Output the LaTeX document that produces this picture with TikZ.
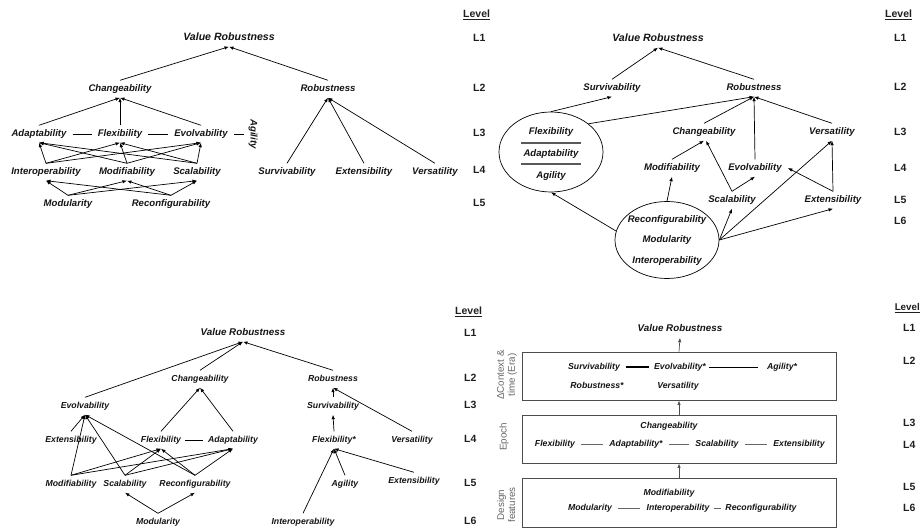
\documentclass[tikz,border=0pt]{standalone}
\usepackage{fontspec}
\setmainfont{Liberation Sans}
\usetikzlibrary{arrows.meta,shapes.geometric}
\begin{document}
\begin{tikzpicture}[x=1pt,y=-1pt,
  lab/.style={font=\fontsize{9.6}{11}\selectfont\bfseries\itshape, text=black!92, inner xsep=1pt, inner ysep=4pt, text height=7pt, text depth=2pt},
  labs/.style={lab, font=\fontsize{8.7}{10}\selectfont\bfseries\itshape},
  vr/.style={lab, font=\fontsize{10.6}{12}\selectfont\bfseries\itshape},
  vrs/.style={lab, font=\fontsize{9.8}{11}\selectfont\bfseries\itshape},
  lvl/.style={font=\fontsize{10.5}{12}\selectfont\bfseries, text=black!88, inner sep=0pt, anchor=west},
  arr/.style={-{Latex[length=4.5pt,width=3.5pt]}, line width=0.7pt},
  garr/.style={arr, draw=black!70},
  ln/.style={line width=0.7pt},
  gln/.style={line width=0.6pt, draw=black!60},
  side/.style={font=\fontsize{9.8}{11}\selectfont, text=black!60, rotate=90, align=center, inner sep=0pt},
  ell/.style={draw, ellipse, line width=0.7pt, minimum width=104pt, minimum height=80pt, inner sep=0pt},
  boxx/.style={draw=black!70, line width=0.9pt, minimum width=314pt, inner sep=0pt}
]
\useasboundingbox (0,0) rectangle (921,529);

% ---------------- Quadrant 1 ----------------
\node[vr] (a0) at (229,38) {Value Robustness};
\node[lab] (a1) at (120,89) {Changeability};
\node[lab] (a2) at (328,89) {Robustness};
\node[lab] (a3) at (39,134) {Adaptability};
\node[lab] (a4) at (120,134) {Flexibility};
\node[lab] (a5) at (201,134) {Evolvability};
\node[lab, rotate=-90] (a6) at (253,134) {Agility};
\node[lab] (a7) at (46,172) {Interoperability};
\node[lab] (a8) at (127,172) {Modifiability};
\node[lab] (a9) at (197,172) {Scalability};
\node[lab] (a10) at (287,172) {Survivability};
\node[lab] (a11) at (364,172) {Extensibility};
\node[lab] (a12) at (435,172) {Versatility};
\node[lab] (a13) at (68,204) {Modularity};
\node[lab] (a14) at (171,204) {Reconfigurability};

\draw[arr] (a1.north) -- (a0.south);
\draw[arr] (a2.north) -- (a0.south);
\foreach \s in {a3,a4,a5} \draw[arr] (\s.north) -- (a1.south);
\foreach \s in {a10,a11,a12} \draw[arr] (\s.north) -- (a2.south);
\foreach \s in {a7,a8,a9} {\foreach \t in {a3,a4,a5} {\draw[arr] (\s.north) -- (\t.south);}}
\foreach \s in {a13,a14} {\foreach \t in {a7,a8,a9} {\draw[arr] (\s.north) -- (\t.south);}}
\draw[ln] ([xshift=5pt]a3.east) -- ([xshift=-5pt]a4.west);
\draw[ln] ([xshift=5pt]a4.east) -- ([xshift=-5pt]a5.west);
\draw[ln] ([xshift=5pt]a5.east) -- (a6.south);

\node[lvl] (lva) at (463,15) {\underline{Level}};
\node[lvl] (lva1) at (473,38) {L1};
\node[lvl] (lva2) at (473,88) {L2};
\node[lvl] (lva3) at (473,133) {L3};
\node[lvl] (lva4) at (473,170) {L4};
\node[lvl] (lva5) at (473,203) {L5};

% ---------------- Quadrant 2 ----------------
\node[vr] (b0) at (658,39) {Value Robustness};
\node[lab] (b1) at (612,88) {Survivability};
\node[lab] (b2) at (754,88) {Robustness};
\node[ell] (bL) at (551,152) {};
\node[lab] (bL1) at (551,132) {Flexibility};
\node[lab] (bL2) at (551,154) {Adaptability};
\node[lab] (bL3) at (551,176) {Agility};
\draw[line width=1.3pt, black!65] (521,143) -- (581,143);
\draw[line width=1.3pt, black!65] (521,164) -- (581,164);
\node[lab] (b3) at (704,132) {Changeability};
\node[lab] (b4) at (832,132) {Versatility};
\node[lab] (b5) at (672,168) {Modifiability};
\node[lab] (b6) at (755,168) {Evolvability};
\node[lab] (b7) at (732,200) {Scalability};
\node[lab] (b8) at (833,200) {Extensibility};
\node[ell, minimum height=77pt] (bB) at (667,240) {};
\node[lab] (bB1) at (667,220) {Reconfigurability};
\node[lab] (bB2) at (667,240) {Modularity};
\node[lab] (bB3) at (667,261) {Interoperability};

\draw[arr] (b1.north) -- (b0.south);
\draw[arr] (b2.north) -- (b0.south);
\draw[arr] (bL.north) -- (b1.south);
\draw[arr] (bL.37) -- (b2.south);
\foreach \s in {b3,b6,b4} \draw[arr] (\s.north) -- (b2.south);
\draw[arr] (b5.north) -- (b3.south);
\draw[arr] (b7.north) -- ([xshift=2pt]b3.south);
\draw[arr] (b7.north) -- (b6.south);
\draw[arr] (b8.north) -- (b4.south);
\draw[arr] (b8.north) -- ([xshift=5pt]b6.east);
\draw[arr] (bB.north) -- (b5.south);
\draw[arr] (bB.east) -- (b7.south);
\draw[arr] (bB.east) -- (b4.south);
\draw[arr] (bB.east) -- (b8.south);
\draw[arr] (bB.170) -- (bL.south);

\node[lvl] (lvb) at (885,15) {\underline{Level}};
\node[lvl] (lvb1) at (894,38) {L1};
\node[lvl] (lvb2) at (894,87) {L2};
\node[lvl] (lvb3) at (894,132) {L3};
\node[lvl] (lvb4) at (894,168) {L4};
\node[lvl] (lvb5) at (894,200) {L5};
\node[lvl] (lvb6) at (894,221) {L6};

% ---------------- Quadrant 3 ----------------
\node[vrs] (c0) at (243,333) {Value Robustness};
\node[labs] (c1) at (200,379) {Changeability};
\node[labs] (c2) at (333,379) {Robustness};
\node[labs] (c3) at (85,406) {Evolvability};
\node[labs] (c4) at (333,406) {Survivability};
\node[labs] (c5) at (71,440) {Extensibility};
\node[labs] (c6) at (161,440) {Flexibility};
\node[labs] (c7) at (233,440) {Adaptability};
\node[labs] (c8) at (334,440) {Flexibility*};
\node[labs] (c9) at (412,440) {Versatility};
\node[labs] (c10) at (71,484) {Modifiability};
\node[labs] (c11) at (125,484) {Scalability};
\node[labs] (c12) at (195,484) {Reconfigurability};
\node[labs] (c13) at (345,484) {Agility};
\node[labs] (c14) at (414,481) {Extensibility};
\node[labs] (c15) at (158,522) {Modularity};
\node[labs] (c16) at (303,522) {Interoperability};

\foreach \s in {c3,c1,c2} \draw[arr] (\s.north) -- (c0.south);
\foreach \s in {c6,c7} \draw[arr] (\s.north) -- (c1.south);
\draw[ln] ([xshift=3pt]c6.east) -- ([xshift=-4pt]c7.west);
\foreach \s in {c5,c10,c11,c12} \draw[arr] (\s.north) -- (c3.south);
\foreach \s in {c10,c11,c12} {\foreach \t in {c6,c7} {\draw[arr] (\s.north) -- (\t.south);}}
\foreach \t in {c11,c12} \draw[arr] (c15.north) -- (\t.south);
\draw[arr] (c4.north) -- (c2.south);
\draw[arr] (c9.north) -- (c2.south);
\draw[arr] (c8.north) -- (c4.south);
\foreach \s in {c16,c13,c14} \draw[arr] (\s.north) -- (c8.south);

\node[lvl] (lvc) at (455,312) {\underline{Level}};
\node[lvl] (lvc1) at (464,333) {L1};
\node[lvl] (lvc2) at (464,378) {L2};
\node[lvl] (lvc3) at (464,405) {L3};
\node[lvl] (lvc4) at (464,439) {L4};
\node[lvl] (lvc5) at (464,483) {L5};
\node[lvl] (lvc6) at (464,521) {L6};

% ---------------- Quadrant 4 ----------------
\node[vrs] (d0) at (680,329) {Value Robustness};
\node[boxx, minimum height=48pt] (d1) at (679,376) {};
\node[boxx, minimum height=48pt] (d2) at (679,439) {};
\node[boxx, minimum height=49pt] (d3) at (679,502.5) {};
\draw[garr] (d1.north) -- (d0.south);
\draw[garr] (d2.north) -- (d1.south);
\draw[garr] (d3.north) -- (d2.south);

\node[side] (s1) at (507,375) {ΔContext \&\\time (Era)};
\node[side] (s2) at (504,437) {Epoch};
\node[side] (s3) at (506,505) {Design\\features};

\node[labs] (e1) at (594,367) {Survivability};
\node[labs] (e2) at (680,367) {Evolvability*};
\node[labs] (e3) at (782,367) {Agility*};
\node[labs] (e4) at (597,386) {Robustness*};
\node[labs] (e5) at (678,386) {Versatility};
\draw[line width=1.1pt] ([xshift=5pt]e1.east) -- ([xshift=-4pt]e2.west);
\draw[ln] ([xshift=2pt]e2.east) -- ([xshift=-8pt]e3.west);

\node[labs] (f1) at (669,426) {Changeability};
\node[labs] (f2) at (555,444) {Flexibility};
\node[labs] (f3) at (636,444) {Adaptability*};
\node[labs] (f4) at (717,444) {Scalability};
\node[labs] (f5) at (799,444) {Extensibility};
\draw[gln] ([xshift=5pt]f2.east) -- ([xshift=-5pt]f3.west);
\draw[gln] ([xshift=5pt]f3.east) -- ([xshift=-5pt]f4.west);
\draw[gln] ([xshift=5pt]f4.east) -- ([xshift=-5pt]f5.west);

\node[labs] (g1) at (669,493) {Modifiability};
\node[labs] (g2) at (590,508) {Modularity};
\node[labs] (g3) at (678,508) {Interoperability};
\node[labs] (g4) at (761,508) {Reconfigurability};
\draw[gln] ([xshift=5pt]g2.east) -- ([xshift=-5pt]g3.west);
\draw[gln] ([xshift=3pt]g3.east) -- ([xshift=-3pt]g4.west);

\node[lvl, font=\fontsize{9.8}{11}\selectfont\bfseries, anchor=east] (lvd) at (920,308) {\underline{Level}};
\node[lvl] (lvd1) at (903,328) {L1};
\node[lvl] (lvd2) at (903,361) {L2};
\node[lvl] (lvd3) at (903,423) {L3};
\node[lvl] (lvd4) at (903,445) {L4};
\node[lvl] (lvd5) at (903,487) {L5};
\node[lvl] (lvd6) at (903,508) {L6};
\end{tikzpicture}
\end{document}
